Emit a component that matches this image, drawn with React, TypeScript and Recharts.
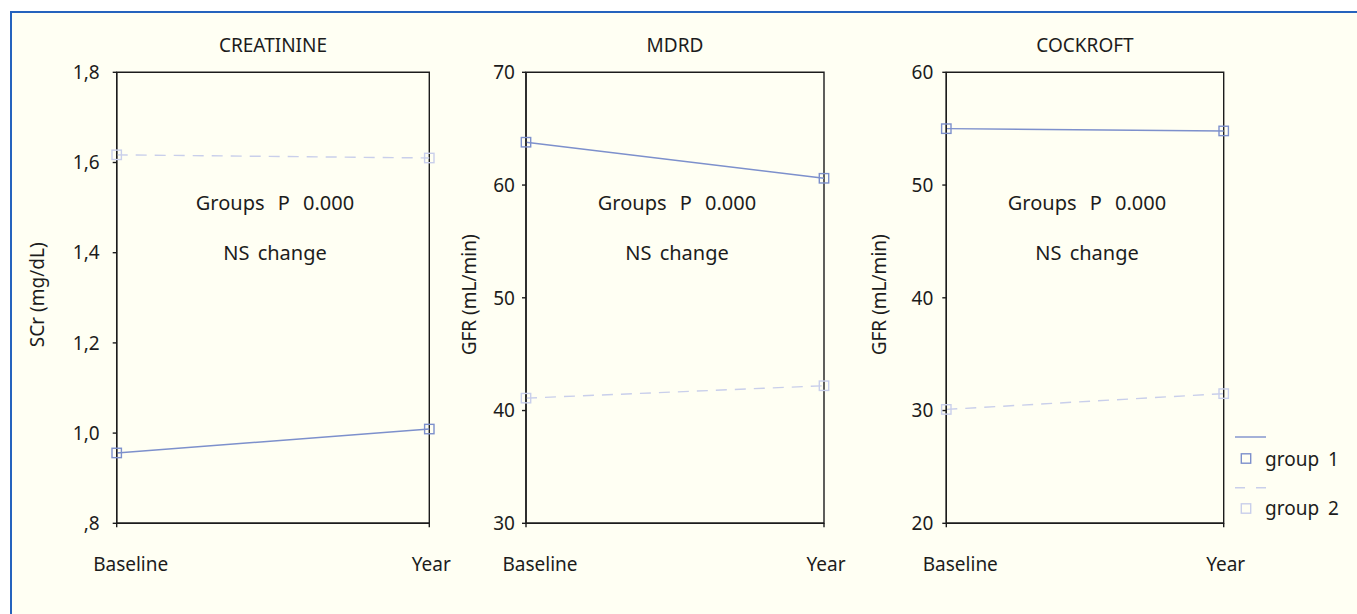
import React from 'react';
import { LineChart, Line, XAxis, YAxis, ReferenceArea, Label, Legend } from 'recharts';

const periods = ['Baseline', 'Year'];

const creatinineGroup1 = [0.956, 1.009];
const creatinineGroup2 = [1.617, 1.61];
const creatinineTicks = [0.8, 1.0, 1.2, 1.4, 1.6, 1.8];
const creatinineTickLabels = [',8', '1,0', '1,2', '1,4', '1,6', '1,8'];

const mdrdGroup1 = [63.8, 60.6];
const mdrdGroup2 = [41.1, 42.2];
const mdrdTicks = [30, 40, 50, 60, 70];
const mdrdTickLabels = ['30', '40', '50', '60', '70'];

const cockroftGroup1 = [55.0, 54.8];
const cockroftGroup2 = [30.1, 31.5];
const cockroftTicks = [20, 30, 40, 50, 60];
const cockroftTickLabels = ['20', '30', '40', '50', '60'];

const seriesNames = ['group 1', 'group 2'];
const annotation = ['Groups P 0.000', 'NS change'];

const FONT = '"Noto Sans", sans-serif';
const INK = '#1c1c1c';
const G1 = '#7d90cc';
const G2 = '#c9cfeb';
const DASH = '11 8';

const toRows = (a: number[], b: number[]) =>
  periods.map((p, i) => ({ period: p, g1: a[i], g2: b[i] }));

const squareDot = (color: string) => (props: any) => {
  const { cx, cy, index } = props;
  if (cx == null || cy == null) return <g key={index} />;
  return (
    <rect key={index} x={cx - 4.7} y={cy - 4.7} width={9.4} height={9.4} fill="none" stroke={color} strokeWidth={1.4} />
  );
};

const XTick = (props: any) => {
  const { x, y, payload, index } = props;
  return (
    <text x={x + (index === 0 ? 14 : 2)} y={y} dy={42} textAnchor="middle" fontFamily={FONT} fontSize={19} fill={INK}>
      {payload.value}
    </text>
  );
};

// centred text inside the plot box, at a fixed distance below its top edge
const boxText = (text: string, offset: number, wordSpacing: number) => (lp: any) => {
  const vb = lp.viewBox || {};
  return (
    <text
      x={vb.x + vb.width / 2 + 2}
      y={vb.y + offset}
      textAnchor="middle"
      fontFamily={FONT}
      fontSize={20}
      fill={INK}
      style={{ wordSpacing }}
    >
      {text}
    </text>
  );
};

type PanelProps = {
  left: number;
  width: number;
  marginLeft: number;
  marginRight: number;
  title: string;
  yTitle: string;
  yTitleOffset: number;
  tickMargin: number;
  g1: number[];
  g2: number[];
  ticks: number[];
  tickLabels: string[];
  legend?: boolean;
};

function Panel(p: PanelProps) {
  const data = toRows(p.g1, p.g2);
  const lo = p.ticks[0];
  const hi = p.ticks[p.ticks.length - 1];
  return (
    <div style={{ position: 'absolute', left: p.left, top: 0 }}>
      <LineChart
        width={p.width}
        height={614}
        data={data}
        margin={{ top: 72.3, right: p.marginRight, bottom: 30.7, left: p.marginLeft }}
      >
        <XAxis
          dataKey="period"
          height={60}
          tick={<XTick />}
          tickSize={4}
          stroke={INK}
          strokeWidth={1.4}
          tickLine={{ stroke: INK, strokeWidth: 1.4 }}
          interval={0}
        />
        <YAxis
          domain={[lo, hi]}
          ticks={p.ticks}
          width={60}
          tickSize={4}
          tickMargin={p.tickMargin}
          stroke={INK}
          strokeWidth={1.4}
          tickLine={{ stroke: INK, strokeWidth: 1.4 }}
          tick={{ fontFamily: FONT, fontSize: 19, fill: INK }}
          tickFormatter={(_v: number, i: number) => p.tickLabels[i]}
          interval={0}
        />
        <ReferenceArea x1={periods[0]} x2={periods[1]} y1={lo} y2={hi} fill="none" stroke={INK} strokeWidth={1.4}>
          <Label value={p.title} position="top" offset={20} fontFamily={FONT} fontSize={19} fill={INK} />
          <Label content={boxText(annotation[0], 138, 8)} />
          <Label content={boxText(annotation[1], 188, 3)} />
          <Label
            content={(lp: any) => {
              const vb = lp.viewBox || {};
              const cx = vb.x - p.yTitleOffset;
              const cy = vb.y + vb.height / 2 - 3;
              return (
                <text
                  x={cx}
                  y={cy}
                  transform={`rotate(-90, ${cx}, ${cy})`}
                  textAnchor="middle"
                  dominantBaseline="central"
                  fontFamily={FONT}
                  fontSize={19}
                  fill={INK}
                >
                  {p.yTitle}
                </text>
              );
            }}
          />
        </ReferenceArea>
        <Line
          dataKey="g1"
          name={seriesNames[0]}
          stroke={G1}
          strokeWidth={1.4}
          dot={squareDot(G1)}
          isAnimationActive={false}
        />
        <Line
          dataKey="g2"
          name={seriesNames[1]}
          stroke={G2}
          strokeWidth={1.4}
          strokeDasharray={DASH}
          dot={squareDot(G2)}
          isAnimationActive={false}
        />
        {p.legend && (
          <Legend
            layout="vertical"
            align="center"
            verticalAlign="middle"
            wrapperStyle={{ position: 'absolute', left: 370, top: 425, width: 127, height: 100 }}
            content={() => (
              <svg width={127} height={100} style={{ display: 'block' }}>
                <line x1={5} x2={36} y1={12} y2={12} stroke={G1} strokeWidth={1.4} />
                <rect x={11.3} y={28.8} width={9.4} height={9.4} fill="none" stroke={G1} strokeWidth={1.4} />
                <text x={35} y={36} dy={5} fontFamily={FONT} fontSize={19} fill={INK} style={{ wordSpacing: 4 }}>
                  {seriesNames[0]}
                </text>
                <line x1={5} x2={36} y1={62.7} y2={62.7} stroke={G2} strokeWidth={1.4} strokeDasharray="10 11" />
                <rect x={11.3} y={78.8} width={9.4} height={9.4} fill="none" stroke={G2} strokeWidth={1.4} />
                <text x={35} y={85} dy={5} fontFamily={FONT} fontSize={19} fill={INK} style={{ wordSpacing: 4 }}>
                  {seriesNames[1]}
                </text>
              </svg>
            )}
          />
        )}
      </LineChart>
    </div>
  );
}

export default function App() {
  return (
    <div style={{ position: 'absolute', left: 0, top: 0, width: 1357, height: 614, background: '#ffffff', overflow: 'hidden' }}>
      <div
        style={{
          position: 'absolute',
          left: 10,
          top: 11,
          width: 1347,
          height: 603,
          background: '#fffff3',
          borderTop: '2px solid #2563bd',
          borderLeft: '2px solid #2563bd',
          boxSizing: 'border-box',
        }}
      />
      <Panel
        left={0}
        width={460}
        marginLeft={56.7}
        marginRight={30.7}
        title="CREATININE"
        yTitle="SCr (mg/dL)"
        yTitleOffset={79.7}
        tickMargin={13}
        g1={creatinineGroup1}
        g2={creatinineGroup2}
        ticks={creatinineTicks}
        tickLabels={creatinineTickLabels}
      />
      <Panel
        left={455}
        width={405}
        marginLeft={11}
        marginRight={36}
        title="MDRD"
        yTitle="GFR (mL/min)"
        yTitleOffset={57}
        tickMargin={7}
        g1={mdrdGroup1}
        g2={mdrdGroup2}
        ticks={mdrdTicks}
        tickLabels={mdrdTickLabels}
      />
      <Panel
        left={860}
        width={497}
        marginLeft={26.3}
        marginRight={133.3}
        title="COCKROFT"
        yTitle="GFR (mL/min)"
        yTitleOffset={67}
        tickMargin={9}
        g1={cockroftGroup1}
        g2={cockroftGroup2}
        ticks={cockroftTicks}
        tickLabels={cockroftTickLabels}
        legend
      />
    </div>
  );
}
